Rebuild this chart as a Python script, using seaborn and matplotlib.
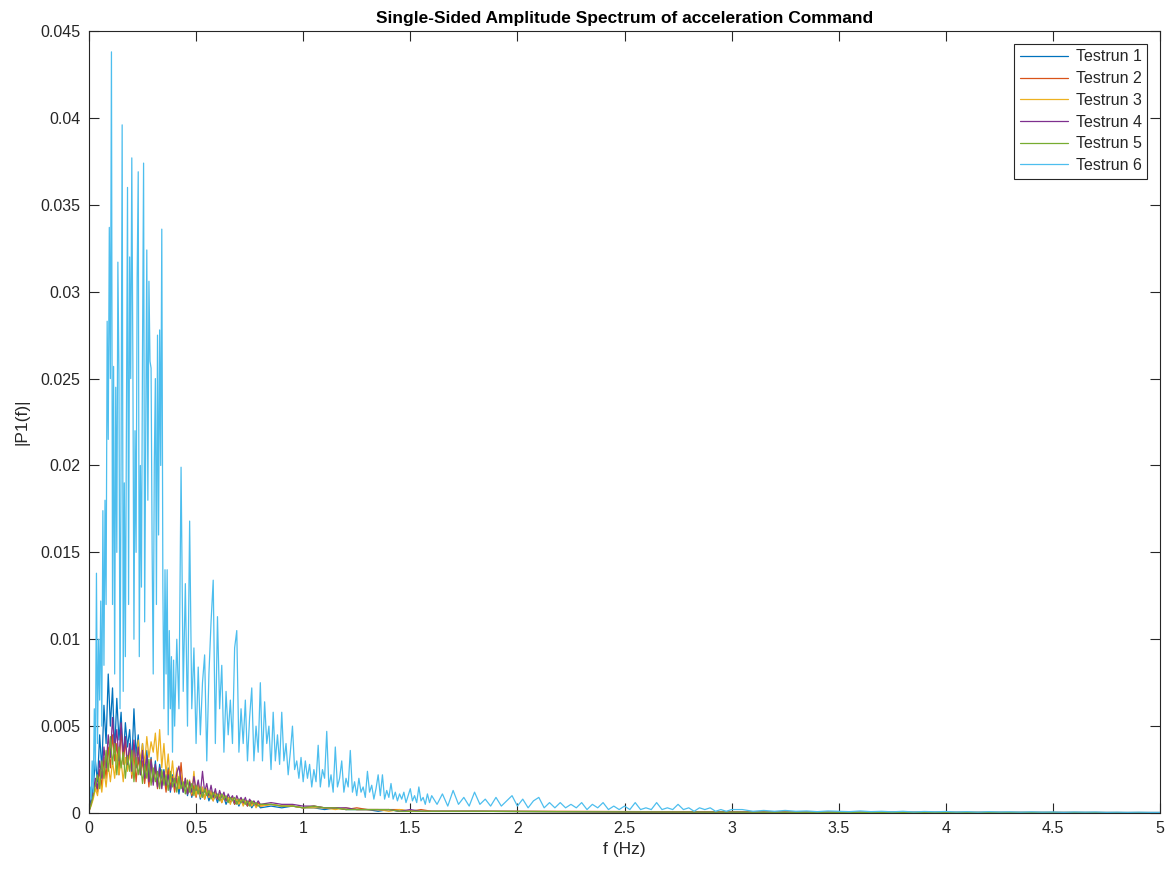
import numpy as np
import pandas as pd
import matplotlib
matplotlib.use("Agg")
import matplotlib.pyplot as plt
import seaborn as sns
from matplotlib.ticker import FuncFormatter

# ---------------- data ----------------
series_names = ["Testrun 1", "Testrun 2", "Testrun 3", "Testrun 4", "Testrun 5", "Testrun 6"]
series_colors = ["#0072BD", "#D95319", "#EDB120", "#7E2F8E", "#77AC30", "#4DBEEE"]

# frequency grids (Hz)
f_fine = np.round(np.arange(0.0, 0.801, 0.01), 3)          # 0.00 .. 0.80
f_mid = np.round(np.arange(0.85, 1.601, 0.05), 3)          # 0.85 .. 1.60
f_tail = [1.8, 2.2, 2.6, 3.0, 3.5, 4.0, 4.5, 5.0]

run1_fine = [0.0002,0.0008,0.0015,0.0030,0.0018,0.0045,0.0025,0.0062,0.0040,0.0080,
             0.0050,0.0072,0.0035,0.0066,0.0042,0.0058,0.0030,0.0052,0.0038,0.0048,
             0.0028,0.0060,0.0033,0.0045,0.0025,0.0040,0.0022,0.0036,0.0020,0.0032,
             0.0018,0.0030,0.0016,0.0028,0.0020,0.0025,0.0014,0.0026,0.0012,0.0022,
             0.0015,0.0020,0.0011,0.0019,0.0012,0.0017,0.0010,0.0016,0.0009,0.0015,
             0.0010,0.0014,0.0008,0.0013,0.0009,0.0012,0.0007,0.0011,0.0008,0.0010,
             0.0006,0.0010,0.0007,0.0009,0.0005,0.0008,0.0006,0.0008,0.0005,0.0007,
             0.0004,0.0007,0.0005,0.0006,0.0004,0.0006,0.0003,0.0005,0.0004,0.0005,
             0.0003]
run1_mid = [0.0004,0.0003,0.0004,0.0003,0.0003,0.0002,0.0003,0.0002,
            0.0002,0.0002,0.0001,0.0002,0.0001,0.0001,0.0001,0.0001]
run1_tail = [0.0001,0.00008,0.00006,0.00005,0.00004,0.00003,0.00003,0.00002]

run2_fine = [0.0001,0.0005,0.0010,0.0018,0.0012,0.0025,0.0015,0.0032,0.0020,0.0038,
             0.0026,0.0045,0.0030,0.0040,0.0022,0.0049,0.0028,0.0042,0.0025,0.0038,
             0.0020,0.0035,0.0018,0.0032,0.0022,0.0030,0.0017,0.0028,0.0015,0.0031,
             0.0018,0.0026,0.0014,0.0024,0.0016,0.0022,0.0012,0.0025,0.0015,0.0021,
             0.0012,0.0020,0.0014,0.0029,0.0013,0.0018,0.0011,0.0017,0.0010,0.0016,
             0.0009,0.0015,0.0010,0.0014,0.0008,0.0013,0.0009,0.0012,0.0007,0.0011,
             0.0008,0.0010,0.0006,0.0010,0.0007,0.0009,0.0006,0.0009,0.0005,0.0008,
             0.0006,0.0008,0.0005,0.0007,0.0004,0.0007,0.0005,0.0006,0.0004,0.0006,
             0.0004]
run2_mid = [0.0005,0.0004,0.0004,0.0003,0.0004,0.0003,0.0003,0.0002,
            0.0003,0.0002,0.0002,0.0002,0.0002,0.0001,0.0002,0.0001]
run2_tail = [0.0001,0.0001,0.00008,0.00006,0.00005,0.00004,0.00003,0.00003]

run3_fine = [0.0001,0.0004,0.0008,0.0014,0.0010,0.0020,0.0012,0.0025,0.0015,0.0028,
             0.0018,0.0030,0.0020,0.0034,0.0022,0.0030,0.0018,0.0032,0.0024,0.0036,
             0.0022,0.0038,0.0026,0.0042,0.0030,0.0040,0.0028,0.0044,0.0032,0.0041,
             0.0035,0.0046,0.0030,0.0048,0.0026,0.0040,0.0022,0.0034,0.0018,0.0030,
             0.0016,0.0026,0.0014,0.0022,0.0013,0.0020,0.0012,0.0019,0.0011,0.0024,
             0.0010,0.0017,0.0009,0.0015,0.0008,0.0014,0.0009,0.0013,0.0007,0.0012,
             0.0008,0.0011,0.0006,0.0010,0.0007,0.0009,0.0005,0.0009,0.0006,0.0008,
             0.0005,0.0008,0.0004,0.0007,0.0005,0.0006,0.0004,0.0006,0.0003,0.0005,
             0.0004]
run3_mid = [0.0005,0.0004,0.0004,0.0003,0.0003,0.0003,0.0002,0.0003,
            0.0002,0.0002,0.0002,0.0001,0.0002,0.0001,0.0001,0.0001]
run3_tail = [0.0001,0.00008,0.00007,0.00005,0.00004,0.00003,0.00003,0.00002]

run4_fine = [0.0001,0.0006,0.0012,0.0020,0.0014,0.0030,0.0020,0.0038,0.0026,0.0045,
             0.0032,0.0055,0.0036,0.0048,0.0030,0.0052,0.0034,0.0044,0.0028,0.0040,
             0.0024,0.0042,0.0026,0.0038,0.0022,0.0036,0.0020,0.0033,0.0018,0.0030,
             0.0016,0.0028,0.0015,0.0026,0.0014,0.0024,0.0016,0.0022,0.0013,0.0020,
             0.0015,0.0023,0.0027,0.0018,0.0012,0.0020,0.0011,0.0018,0.0012,0.0021,
             0.0013,0.0019,0.0011,0.0024,0.0012,0.0017,0.0010,0.0016,0.0009,0.0014,
             0.0008,0.0013,0.0009,0.0012,0.0007,0.0011,0.0008,0.0010,0.0006,0.0010,
             0.0007,0.0009,0.0006,0.0009,0.0005,0.0008,0.0006,0.0007,0.0005,0.0007,
             0.0005]
run4_mid = [0.0006,0.0005,0.0005,0.0004,0.0004,0.0003,0.0003,0.0003,
            0.0002,0.0002,0.0002,0.0002,0.0001,0.0002,0.0001,0.0001]
run4_tail = [0.0001,0.00008,0.00006,0.00005,0.00004,0.00003,0.00003,0.00002]

run5_fine = [0.0001,0.0005,0.0010,0.0016,0.0022,0.0014,0.0030,0.0020,0.0036,0.0024,
             0.0044,0.0028,0.0040,0.0022,0.0038,0.0026,0.0035,0.0020,0.0033,0.0024,
             0.0036,0.0018,0.0032,0.0022,0.0030,0.0017,0.0028,0.0020,0.0031,0.0016,
             0.0026,0.0018,0.0024,0.0014,0.0025,0.0016,0.0022,0.0013,0.0024,0.0015,
             0.0020,0.0012,0.0021,0.0014,0.0018,0.0011,0.0019,0.0012,0.0017,0.0010,
             0.0016,0.0011,0.0015,0.0009,0.0014,0.0010,0.0013,0.0008,0.0012,0.0009,
             0.0011,0.0007,0.0011,0.0008,0.0010,0.0006,0.0009,0.0007,0.0009,0.0005,
             0.0008,0.0006,0.0008,0.0005,0.0007,0.0004,0.0007,0.0005,0.0006,0.0004,
             0.0005]
run5_mid = [0.0005,0.0004,0.0004,0.0003,0.0004,0.0003,0.0003,0.0002,
            0.0002,0.0002,0.0002,0.0002,0.0001,0.0001,0.0001,0.0001]
run5_tail = [0.0001,0.00008,0.00006,0.00005,0.00004,0.00003,0.00003,0.00002]

# Testrun 6 on its own, finer grid near the peaks
f6_a = np.round(np.arange(0.0, 0.4001, 0.005), 4)     # 0.000 .. 0.400
f6_b = np.round(np.arange(0.41, 1.6001, 0.01), 3)     # 0.41 .. 1.60
f6_c = np.round(np.arange(1.625, 3.0001, 0.025), 3)   # 1.625 .. 3.000
f6_d = np.round(np.arange(3.05, 5.0001, 0.05), 3)     # 3.05 .. 5.00

run6_a = [0.0002,0.0015,0.0008,0.0030,0.0012,0.0060,0.0025,0.0138,0.0040,0.0100,
          0.0065,0.0122,0.0050,0.0174,0.0085,0.0180,0.0120,0.0283,0.0215,0.0337,
          0.0250,0.0438,0.0120,0.0257,0.0080,0.0245,0.0150,0.0317,0.0253,0.0060,
          0.0205,0.0396,0.0070,0.0190,0.0090,0.0230,0.0360,0.0120,0.0320,0.0250,
          0.0377,0.0259,0.0100,0.0220,0.0150,0.0308,0.0369,0.0090,0.0200,0.0130,
          0.0265,0.0374,0.0110,0.0220,0.0324,0.0180,0.0306,0.0260,0.0256,0.0150,
          0.0080,0.0200,0.0250,0.0120,0.0275,0.0160,0.0278,0.0200,0.0336,0.0130,
          0.0060,0.0140,0.0080,0.0140,0.0045,0.0105,0.0060,0.0090,0.0035,0.0088,
          0.0050]
run6_b = [0.0100,0.0060,0.0199,0.0070,0.0132,0.0050,0.0168,0.0060,0.0095,0.0040,
          0.0084,0.0045,0.0075,0.0091,0.0030,0.0080,0.0110,0.0134,0.0040,0.0113,
          0.0060,0.0085,0.0035,0.0070,0.0045,0.0065,0.0040,0.0095,0.0105,0.0035,
          0.0060,0.0040,0.0065,0.0030,0.0055,0.0072,0.0030,0.0050,0.0035,0.0075,
          0.0030,0.0064,0.0040,0.0050,0.0025,0.0058,0.0030,0.0045,0.0028,0.0058,
          0.0030,0.0040,0.0022,0.0035,0.0050,0.0025,0.0030,0.0020,0.0032,0.0018,
          0.0030,0.0020,0.0028,0.0015,0.0025,0.0018,0.0039,0.0015,0.0025,0.0020,
          0.0047,0.0015,0.0022,0.0012,0.0038,0.0015,0.0020,0.0030,0.0012,0.0020,
          0.0015,0.0036,0.0012,0.0018,0.0010,0.0020,0.0012,0.0015,0.0009,0.0024,
          0.0012,0.0016,0.0008,0.0014,0.0022,0.0010,0.0022,0.0008,0.0013,0.0009,
          0.0017,0.0008,0.0012,0.0007,0.0011,0.0008,0.0012,0.0006,0.0010,0.0014,
          0.0007,0.0010,0.0006,0.0015,0.0007,0.0009,0.0005,0.0011,0.0006,0.0010]
run6_c = [0.0005,0.0011,0.0004,0.0013,0.0005,0.0009,0.0004,0.0012,0.0005,0.0008,
          0.0004,0.0009,0.0004,0.0007,0.0010,0.0004,0.0008,0.0003,0.0007,0.0009,
          0.0003,0.0006,0.0003,0.0006,0.0003,0.0005,0.0003,0.0006,0.0002,0.0005,
          0.0003,0.0006,0.0002,0.0004,0.0002,0.0004,0.0002,0.0006,0.0002,0.0003,
          0.0002,0.0006,0.0002,0.0003,0.0002,0.0005,0.0002,0.0003,0.0001,0.0003,
          0.0002,0.0003,0.0001,0.0002,0.0001,0.0002]
run6_d = [0.0002,0.0001,0.00015,0.0001,0.00015,0.0001,0.00012,0.00008,0.00012,0.0001,
          0.00008,0.00012,0.00008,0.0001,0.00007,0.0001,0.00006,0.00009,0.00007,0.00009,
          0.00006,0.00008,0.00005,0.00008,0.00006,0.00007,0.00005,0.00007,0.00005,0.00006,
          0.00004,0.00006,0.00005,0.00006,0.00004,0.00005,0.00004,0.00005,0.00004,0.00004]

xtick_vals = [0, 0.5, 1, 1.5, 2, 2.5, 3, 3.5, 4, 4.5, 5]
ytick_vals = [0, 0.005, 0.01, 0.015, 0.02, 0.025, 0.03, 0.035, 0.04, 0.045]

# ---------------- build long table ----------------
frames = []
runs15 = [(run1_fine, run1_mid, run1_tail), (run2_fine, run2_mid, run2_tail),
          (run3_fine, run3_mid, run3_tail), (run4_fine, run4_mid, run4_tail),
          (run5_fine, run5_mid, run5_tail)]
for name, (a, b, c) in zip(series_names[:5], runs15):
    fx = np.concatenate([f_fine, f_mid, f_tail])
    fy = np.concatenate([a, b, c])
    frames.append(pd.DataFrame({"f": fx, "P1": fy, "run": name}))
fx6 = np.concatenate([f6_a, f6_b, f6_c, f6_d])
fy6 = np.concatenate([run6_a, run6_b, run6_c, run6_d])
frames.append(pd.DataFrame({"f": fx6, "P1": fy6, "run": series_names[5]}))
df = pd.concat(frames, ignore_index=True)

# ---------------- plot ----------------
sns.set_theme(style="ticks")
plt.rcParams["font.family"] = ["Liberation Sans", "DejaVu Sans"]

fig = plt.figure(figsize=(11.72, 8.69), dpi=100)
ax = fig.add_axes([0.0759, 0.0644, 0.9139, 0.8999])

sns.lineplot(data=df, x="f", y="P1", hue="run", hue_order=series_names,
             palette=series_colors, estimator=None, sort=False,
             linewidth=0.9, ax=ax, legend=True)

ax.set_xlim(0, 5)
ax.set_ylim(0, 0.045)
ax.set_xticks(xtick_vals)
ax.set_yticks(ytick_vals)
fmt = FuncFormatter(lambda v, p: "%g" % v)
ax.xaxis.set_major_formatter(fmt)
ax.yaxis.set_major_formatter(fmt)

edge = "#262626"
for s in ax.spines.values():
    s.set_visible(True)
    s.set_color(edge)
    s.set_linewidth(0.8)
ax.tick_params(axis="both", direction="in", length=7, width=0.8, colors=edge,
               labelcolor="#262626", labelsize=11.5, top=True, right=True, pad=6)

ax.set_xlabel("f (Hz)", fontsize=12.5, color="#262626", labelpad=4)
ax.set_ylabel("|P1(f)|", fontsize=12.5, color="#262626", labelpad=8)
ax.set_title("Single-Sided Amplitude Spectrum of acceleration Command",
             fontsize=12.5, fontweight="bold", color="black", pad=6)

handles, labels = ax.get_legend_handles_labels()
leg = ax.legend(handles, labels, loc="upper right", fontsize=11.5, frameon=True,
                fancybox=False, edgecolor="#262626", framealpha=1,
                handlelength=3.0, borderaxespad=0.8, labelspacing=0.42,
                borderpad=0.35, handletextpad=0.5, bbox_to_anchor=(1.0, 1.0))
leg.get_frame().set_linewidth(0.8)
for lh in leg.get_lines():
    lh.set_linewidth(0.9)

fig.savefig("out.png", dpi=100, facecolor="white")
